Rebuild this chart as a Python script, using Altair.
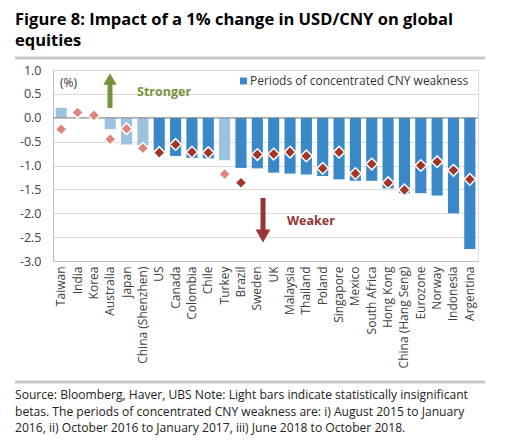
import altair as alt
import pandas as pd

FONT = "Open Sans"

countries = ["Taiwan", "India", "Korea", "Australia", "Japan", "China (Shenzhen)", "US",
             "Canada", "Colombia", "Chile", "Turkey", "Brazil", "Sweden", "UK", "Malaysia",
             "Thailand", "Poland", "Singapore", "Mexico", "South Africa", "Hong Kong",
             "China (Hang Seng)", "Eurozone", "Norway", "Indonesia", "Argentina"]
# bars: beta during periods of concentrated CNY weakness
period_beta = [0.21, 0.0, 0.0, -0.24, -0.56, -0.58, -0.69, -0.80, -0.84, -0.85, -0.89, -1.05,
               -1.06, -1.15, -1.17, -1.19, -1.22, -1.29, -1.32, -1.32, -1.48, -1.58, -1.58,
               -1.63, -2.00, -2.75]
# diamonds: full-sample beta
full_beta = [-0.24, 0.11, 0.05, -0.45, -0.23, -0.64, -0.73, -0.56, -0.72, -0.73, -1.18, -1.36,
             -0.77, -0.76, -0.72, -0.80, -1.06, -0.72, -1.17, -0.97, -1.36, -1.51, -1.00,
             -0.92, -1.10, -1.29]
significant = [False, False, False, False, False, False, True, True, True, True, False, True,
               True, True, True, True, True, True, True, True, True, True, True, True, True, True]
y_ticks = [1.0, 0.5, 0.0, -0.5, -1.0, -1.5, -2.0, -2.5, -3.0]

title_lines = ["Figure 8: Impact of a 1% change in USD/CNY on global", "equities"]
source_lines = [
    "Source:  Bloomberg, Haver, UBS Note: Light bars indicate statistically insignificant",
    "betas. The periods of concentrated CNY weakness are: i) August 2015 to January",
    "2016, ii) October 2016 to January 2017, iii) June 2018 to October 2018.",
]

DARK_BAR = "#3A88C8"
LIGHT_BAR = "#9CC2DD"
DARK_DIA = "#A0362A"
LIGHT_DIA = "#DE847A"
GREEN = "#76933C"
RED = "#953430"

df = pd.DataFrame({"country": countries, "period": period_beta, "full": full_beta,
                   "sig": significant})

xscale = alt.Scale(paddingInner=0.32, paddingOuter=0.16)
xaxis = alt.Axis(title=None, labelAngle=-90, labelFontSize=12, labelColor="#404040",
                 labelFont=FONT, labelPadding=5, ticks=False, domainColor="#bfbfbf",
                 labelOverlap=False)
yscale = alt.Scale(domain=[-3, 1], nice=False)
yaxis = alt.Axis(values=y_ticks, title=None, grid=True, gridColor="#d9d9d9",
                 ticks=False, domainColor="#bfbfbf", labelPadding=12,
                 labelOverlap=False, labelFlush=False,
                 labelFontSize=12.5, labelFont=FONT, labelColor="#404040",
                 labelExpr="replace(format(datum.value, '.1f'), '\u2212', '-')")

base = alt.Chart(df)

bars = base.mark_bar().encode(
    x=alt.X("country:N", sort=countries, scale=xscale, axis=xaxis),
    y=alt.Y("period:Q", scale=yscale, axis=yaxis),
    y2=alt.datum(0),
    color=alt.condition("datum.sig", alt.value(DARK_BAR), alt.value(LIGHT_BAR)),
)

one = alt.Data(values=[{"a": 0}])

zero = alt.Chart(one).mark_rule(color="#8c8c8c", strokeWidth=1).encode(
    y=alt.datum(0, scale=yscale, axis=yaxis), x=alt.value(0), x2=alt.value(425))

diamonds = base.mark_point(shape="diamond", filled=True, size=135, stroke="white",
                           strokeWidth=1.5, opacity=1).encode(
    x=alt.X("country:N", sort=countries, scale=xscale, axis=xaxis),
    y=alt.Y("full:Q", scale=yscale, axis=yaxis),
    fill=alt.condition("datum.sig", alt.value(DARK_DIA), alt.value(LIGHT_DIA)),
)

pct = alt.Chart(one).mark_text(text="(%)", font=FONT, fontSize=12, align="left",
                               baseline="middle", color="#333333").encode(
    x=alt.value(7), y=alt.value(13))

legend_sq = alt.Chart(one).mark_square(size=49, color=DARK_BAR, opacity=1).encode(
    x=alt.value(190.5), y=alt.value(11))
legend_txt = alt.Chart(one).mark_text(text="Periods of concentrated CNY weakness", font=FONT,
                                      fontSize=12, align="left", baseline="middle",
                                      color="#333333").encode(
    x=alt.value(197), y=alt.value(11))

# "Stronger" arrow
up_shaft = alt.Chart(one).mark_rule(color=GREEN, strokeWidth=5).encode(
    x=alt.value(57), y=alt.value(14), y2=alt.value(38))
up_head = alt.Chart(one).mark_point(shape="triangle-up", filled=True, size=180, color=GREEN,
                                    opacity=1).encode(x=alt.value(57), y=alt.value(9))
up_txt = alt.Chart(one).mark_text(text="Stronger", font=FONT, fontSize=12.5, fontWeight="bold",
                                  align="left", baseline="middle", color=GREEN).encode(
    x=alt.value(84), y=alt.value(22))

# "Weaker" arrow
dn_shaft = alt.Chart(one).mark_rule(color=RED, strokeWidth=5).encode(
    x=alt.value(210), y=alt.value(128), y2=alt.value(162))
dn_head = alt.Chart(one).mark_point(shape="triangle-down", filled=True, size=220, color=RED,
                                    opacity=1).encode(x=alt.value(210), y=alt.value(166))
dn_txt = alt.Chart(one).mark_text(text="Weaker", font=FONT, fontSize=12.5, fontWeight="bold",
                                  align="left", baseline="middle", color=RED).encode(
    x=alt.value(234), y=alt.value(151))

sep_top = alt.Chart(one).mark_rule(color="#c8c8c8", strokeWidth=3).encode(
    x=alt.value(-38), x2=alt.value(432), y=alt.value(-12))
sep_bot = alt.Chart(one).mark_rule(color="#c8c8c8", strokeWidth=3).encode(
    x=alt.value(-38), x2=alt.value(432), y=alt.value(312))

title_txt = alt.Chart(one).mark_text(text=title_lines, font=FONT, fontSize=16.5, fontWeight="bold",
                                     align="left", baseline="alphabetic", lineHeight=21,
                                     color="#000000").encode(
    x=alt.value(-38), y=alt.value(-45))

source_txt = alt.Chart(one).mark_text(text=source_lines, font=FONT, fontSize=12.1, align="left",
                                      baseline="alphabetic", lineHeight=16.5,
                                      color="#222222").encode(
    x=alt.value(-38), y=alt.value(329))

chart = alt.layer(
    bars, zero, diamonds, pct, legend_sq, legend_txt, up_shaft, up_head, up_txt,
    dn_shaft, dn_head, dn_txt, sep_top, sep_bot, title_txt, source_txt
).properties(
    width=425, height=191,
    autosize=alt.AutoSizeParams(type="none"),
    padding={"left": 45, "top": 62, "right": 30, "bottom": 175},
).configure_view(stroke=None).configure(background="white")

chart.save("out.html", embed_options={"renderer": "svg", "actions": False})
